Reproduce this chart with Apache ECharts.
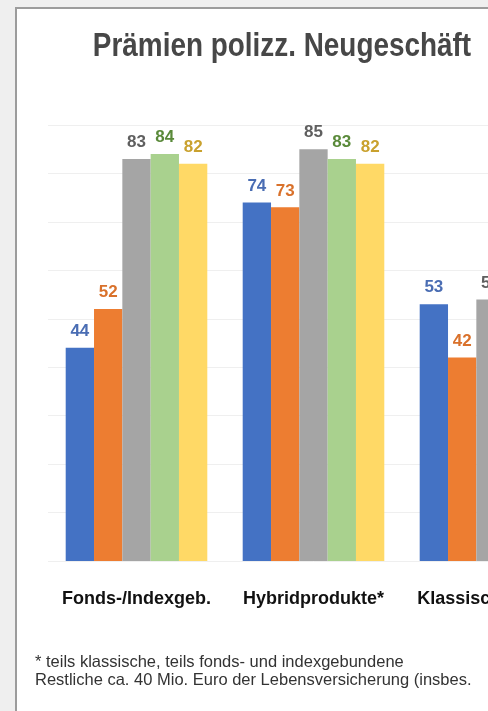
<!DOCTYPE html>
<html lang="de">
<head>
  <meta charset="UTF-8">
  <title>Prämien polizz. Neugeschäft</title>
  <style>
    html, body{
      margin: 0;
      padding: 0;
      background: #efefef;
      overflow: hidden;
      width: 488px;
      height: 711px;
    }
    #main{
      position: absolute;
      left: 15px;
      top: 7px;
      width: 620px;
      height: 730px;
      background: #fff;
      border-left: 2px solid #9c9c9c;
      border-top: 2px solid #9c9c9c;
    }
  </style>
</head>
<body>
<div id="main"></div>
<script src="https://cdn.jsdelivr.net/npm/echarts@6/dist/echarts.min.js"></script>
<script>
  // Kategorien (dritte ist im Bild rechts abgeschnitten)
  var categories = ['Fonds-/Indexgeb.', 'Hybridprodukte*', 'Klassische Tarife'];
  // je Kategorie fünf Balken
  var serie1 = [44, 74, 53];
  var serie2 = [52, 73, 42];
  var serie3 = [83, 85, 54];
  var serie4 = [84, 83, 50];
  var serie5 = [82, 82, 48];
  var seriesNames = ['Serie 1', 'Serie 2', 'Serie 3', 'Serie 4', 'Serie 5'];
  var barColors = ['#4472c4', '#ed7d31', '#a5a5a5', '#a9d18e', '#ffd966'];
  var labelColors = ['#4a6db3', '#d9712b', '#5f5f5f', '#5a8a3a', '#c9a12e'];
  var allData = [serie1, serie2, serie3, serie4, serie5];

  var chartDom = document.getElementById('main');
  var myChart = echarts.init(chartDom);
  var fontBold = '"Liberation Sans", Arial, sans-serif';

  var series = [];
  for (var i = 0; i < allData.length; i++) {
    series.push({
      name: seriesNames[i],
      type: 'bar',
      data: allData[i],
      barGap: '0%',
      barCategoryGap: '20%',
      itemStyle: {color: barColors[i]},
      label: {
        show: true,
        position: 'top',
        distance: 8,
        color: labelColors[i],
        fontFamily: fontBold,
        fontWeight: 'bold',
        fontSize: 17
      }
    });
  }

  myChart.setOption({
    animation: false,
    grid: {
      left: 31,
      top: 116,
      width: 531,
      height: 436
    },
    xAxis: {
      type: 'category',
      data: categories,
      axisLine: {show: false},
      axisTick: {show: false},
      axisLabel: {
        interval: 0,
        margin: 29,
        color: '#111',
        fontFamily: fontBold,
        fontWeight: 'bold',
        fontSize: 18
      }
    },
    yAxis: {
      type: 'value',
      min: 0,
      max: 90,
      interval: 10,
      axisLabel: {show: false},
      axisLine: {show: false},
      axisTick: {show: false},
      splitLine: {lineStyle: {color: '#efefef', width: 1}}
    },
    graphic: [
      {
        type: 'text',
        x: 265,
        y: 38,
        scaleX: 0.9,
        scaleY: 1.05,
        style: {
          text: 'Prämien polizz. Neugeschäft',
          fill: '#474747',
          textAlign: 'center',
          textVerticalAlign: 'middle',
          font: 'bold 31px ' + fontBold
        }
      },
      {
        type: 'text',
        left: 18,
        top: 644,
        style: {
          text: '* teils klassische, teils fonds- und indexgebundene\nRestliche ca. 40 Mio. Euro der Lebensversicherung (insbes.',
          fill: '#333',
          lineHeight: 18,
          font: '16.5px "Liberation Sans", Arial, sans-serif'
        }
      }
    ],
    series: series
  });
</script>
</body>
</html>
